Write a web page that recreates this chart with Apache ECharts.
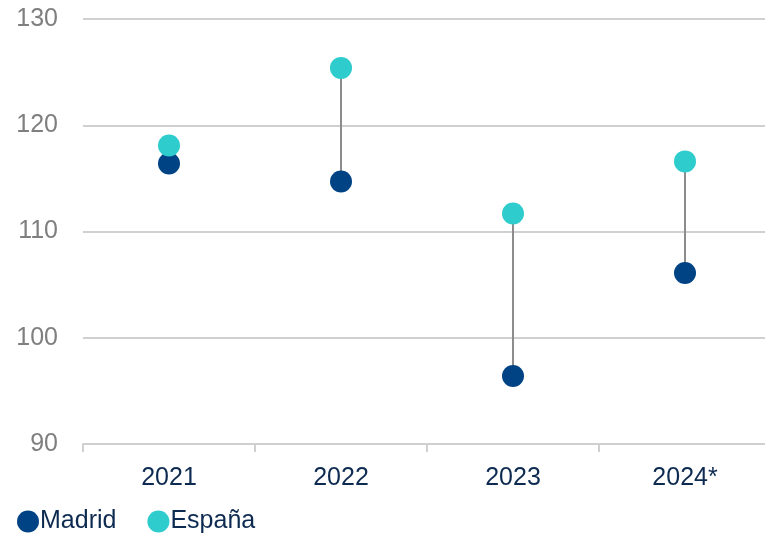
<!DOCTYPE html>
<html><head><meta charset="utf-8">
<script src="https://cdn.jsdelivr.net/npm/echarts@6/dist/echarts.min.js"></script>
<style>html,body{margin:0;padding:0;background:#fff;overflow:hidden}#c{width:775px;height:533px}</style>
</head><body><div id="c"></div>
<script>
const categories = ['2021', '2022', '2023', '2024*'];
const madrid = [116.4, 114.7, 96.4, 106.1];
const espana = [118.1, 125.4, 111.7, 116.6];
const yTicks = [90, 100, 110, 120, 130];

const chart = echarts.init(document.getElementById('c'));
const font = 'Liberation Sans, Arial, sans-serif';
chart.setOption({
  animation: false,
  textStyle: { fontFamily: font },
  grid: { left: 83, width: 688, top: 19, bottom: 89 },
  legend: {
    left: 12, top: 504, itemWidth: 22, itemHeight: 22, itemGap: 31,
    icon: 'circle',
    textStyle: { fontSize: 25, color: '#0d2a50', fontFamily: font, padding: [0, 0, 0, -4] },
    data: ['Madrid', 'España']
  },
  xAxis: {
    type: 'category', data: categories,
    axisLine: { lineStyle: { color: '#d0d0d0', width: 2 } },
    axisTick: { show: true, length: 8, lineStyle: { color: '#d0d0d0', width: 2 } },
    axisLabel: { fontSize: 25, color: '#0d2a50', margin: 22, fontFamily: font }
  },
  yAxis: {
    type: 'value', min: yTicks[0], max: yTicks[yTicks.length - 1], interval: 10,
    axisLine: { show: false }, axisTick: { show: false },
    splitLine: { lineStyle: { color: '#d0d0d0', width: 2 } },
    axisLabel: { fontSize: 25, color: '#7f7f7f', margin: 25, fontFamily: font }
  },
  series: [
    {
      type: 'custom', name: 'range', silent: true, z: 1,
      data: categories.map((c, i) => [i, madrid[i], espana[i]]),
      renderItem: function (params, api) {
        const p1 = api.coord([api.value(0), api.value(1)]);
        const p2 = api.coord([api.value(0), api.value(2)]);
        return { type: 'line', shape: { x1: p1[0], y1: p1[1], x2: p2[0], y2: p2[1] },
          style: { stroke: '#8c8c8c', lineWidth: 2 } };
      }
    },
    { type: 'scatter', name: 'Madrid', data: madrid, symbolSize: 22, z: 3,
      itemStyle: { color: '#004385', opacity: 1 } },
    { type: 'scatter', name: 'España', data: espana, symbolSize: 22, z: 3,
      itemStyle: { color: '#2ecccc', opacity: 1 } }
  ]
});
</script></body></html>
